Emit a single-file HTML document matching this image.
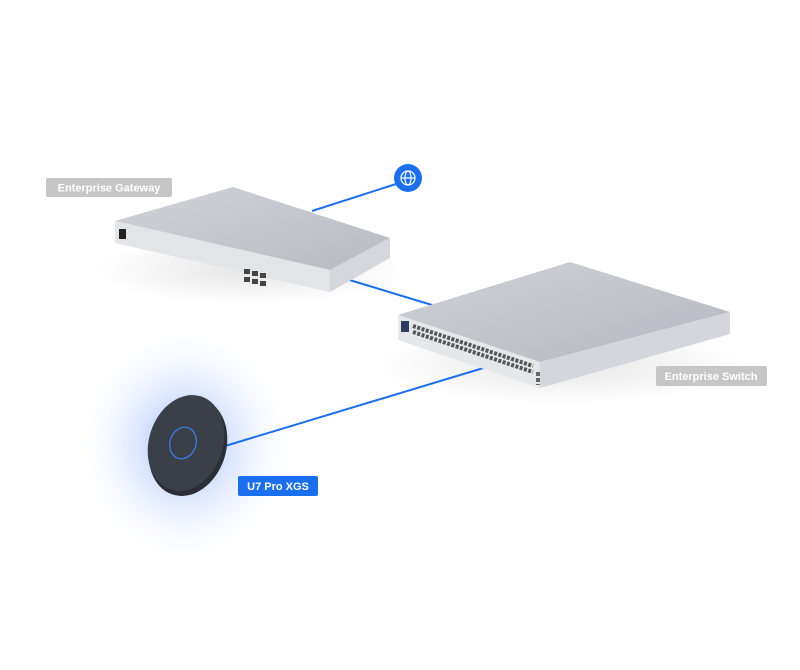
<!DOCTYPE html>
<html><head><meta charset="utf-8"><style>
html,body{margin:0;padding:0;background:#fff;width:800px;height:670px;overflow:hidden}
svg{display:block}
text{font-family:"Liberation Sans",sans-serif;font-weight:bold;font-size:11px}
</style></head><body>
<svg width="800" height="670" viewBox="0 0 800 670">
<defs>
<radialGradient id="glow" cx="0.5" cy="0.5" r="0.5">
<stop offset="0" stop-color="#6d98ff" stop-opacity="0.75"/>
<stop offset="0.45" stop-color="#a8c2ff" stop-opacity="0.35"/>
<stop offset="1" stop-color="#ffffff" stop-opacity="0"/>
</radialGradient>
<linearGradient id="top1" x1="0" y1="0" x2="1" y2="1">
<stop offset="0" stop-color="#d0d2d8"/><stop offset="1" stop-color="#b8bbc2"/>
</linearGradient>
<linearGradient id="top2" x1="0" y1="0" x2="1" y2="1">
<stop offset="0" stop-color="#cfd1d7"/><stop offset="1" stop-color="#b5b8c0"/>
</linearGradient>
<radialGradient id="shadow" cx="0.5" cy="0.5" r="0.5">
<stop offset="0" stop-color="#000" stop-opacity="0.1"/><stop offset="1" stop-color="#000" stop-opacity="0"/>
</radialGradient>
</defs>
<ellipse cx="185" cy="445" rx="115" ry="125" fill="url(#glow)"/>
<ellipse cx="250" cy="270" rx="160" ry="35" fill="url(#shadow)"/>
<ellipse cx="560" cy="365" rx="190" ry="40" fill="url(#shadow)"/>
<g stroke="#1a6ff0" stroke-width="2">
<line x1="396" y1="184" x2="312" y2="211"/>
<line x1="333" y1="275" x2="432" y2="305"/>
<line x1="225" y1="446" x2="490" y2="366"/>
</g>
<polygon points="115,221 233,187 390,238 330,270" fill="url(#top1)"/>
<polygon points="115,221 330,270 330,292 115,243" fill="#e3e4e8"/>
<polygon points="330,270 390,238 390,258 330,292" fill="#d6d7dc"/>
<rect x="119" y="229" width="7" height="10" fill="#222"/>
<g fill="#444"><rect x="244" y="269" width="6" height="5"/><rect x="252" y="271" width="6" height="5"/><rect x="260" y="273" width="6" height="5"/><rect x="244" y="277" width="6" height="5"/><rect x="252" y="279" width="6" height="5"/><rect x="260" y="281" width="6" height="5"/></g>
<polygon points="398,315 570,262 730,312 540,362" fill="url(#top2)"/>
<polygon points="398,315 540,362 540,388 398,340" fill="#e6e7ea"/>
<polygon points="540,362 730,312 730,334 540,388" fill="#d5d6db"/>
<rect x="401" y="321" width="8" height="11" fill="#2f3a60"/>
<g stroke="#555" stroke-width="4" stroke-dasharray="3,1.5">
<line x1="413" y1="326" x2="533" y2="366"/>
<line x1="413" y1="332" x2="533" y2="372"/>
</g>
<g stroke="#666" stroke-width="4" stroke-dasharray="4,2"><line x1="538" y1="372" x2="538" y2="385"/></g>
<circle cx="408" cy="178" r="14" fill="#1a6ff0"/>
<g fill="none" stroke="#fff" stroke-width="1.2">
<circle cx="408" cy="178" r="7"/><ellipse cx="408" cy="178" rx="3" ry="7"/>
<line x1="401" y1="178" x2="415" y2="178"/>
</g>
<ellipse cx="188" cy="447" rx="38" ry="50" transform="rotate(18 188 447)" fill="#2b2e35"/>
<ellipse cx="186" cy="443" rx="37" ry="49" transform="rotate(18 186 443)" fill="#3b3f47"/>
<ellipse cx="183" cy="443" rx="13" ry="16" transform="rotate(18 183 443)" fill="none" stroke="#3a7bef" stroke-width="1.3"/>
<rect x="46" y="178" width="126" height="19" rx="2" fill="#c6c6c6"/>
<text x="109" y="191.5" text-anchor="middle" fill="#fff">Enterprise Gateway</text>
<rect x="656" y="366" width="111" height="20" rx="2" fill="#c6c6c6"/>
<text x="711" y="380" text-anchor="middle" fill="#fff">Enterprise Switch</text>
<rect x="238" y="476" width="80" height="20" rx="2" fill="#1a6ff0"/>
<text x="278" y="490" text-anchor="middle" fill="#fff" font-size="12">U7 Pro XGS</text>
</svg>
</body></html>
